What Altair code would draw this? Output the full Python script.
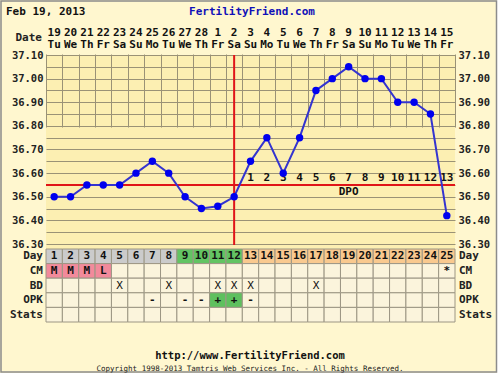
import altair as alt
import pandas as pd

# ---------------- data ----------------
days = list(range(1, 26))
dates = ["19", "20", "21", "22", "23", "24", "25", "26", "27", "28", "1", "2", "3",
         "4", "5", "6", "7", "8", "9", "10", "11", "12", "13", "14", "15"]
weekdays = ["Tu", "We", "Th", "Fr", "Sa", "Su", "Mo", "Tu", "We", "Th", "Fr", "Sa", "Su",
            "Mo", "Tu", "We", "Th", "Fr", "Sa", "Su", "Mo", "Tu", "We", "Th", "Fr"]
temps = [36.50, 36.50, 36.55, 36.55, 36.55, 36.60, 36.65, 36.60, 36.50, 36.45, 36.46, 36.50,
         36.65, 36.75, 36.60, 36.75, 36.95, 37.00, 37.05, 37.00, 37.00, 36.90, 36.90, 36.85, 36.42]
coverline = [36.55]
ovulation_day = [12]
dpo_days = [13, 14, 15, 16, 17, 18, 19, 20, 21, 22, 23, 24, 25]
dpo_labels = ["1", "2", "3", "4", "5", "6", "7", "8", "9", "10", "11", "12", "13"]
day_phase = ["pre", "pre", "pre", "pre", "pre", "pre", "pre", "pre",
             "fertile", "fertile", "fertile", "fertile",
             "post", "post", "post", "post", "post", "post", "post", "post", "post",
             "post", "post", "post", "post"]
cm_obs = ["M", "M", "M", "L", "", "", "", "", "", "", "", "", "", "", "", "", "", "", "", "",
          "", "", "", "", "*"]
bd_obs = ["", "", "", "", "X", "", "", "X", "", "", "X", "X", "X", "", "", "", "X", "", "",
          "", "", "", "", "", ""]
opk_obs = ["", "", "", "", "", "", "-", "", "-", "-", "+", "+", "-", "", "", "", "", "", "",
           "", "", "", "", "", ""]
row_names = ["Day", "CM", "BD", "OPK", "Stats"]
temp_ticks = [36.30, 36.35, 36.40, 36.45, 36.50, 36.55, 36.60, 36.65, 36.70, 36.75, 36.80,
              36.85, 36.90, 36.95, 37.00, 37.05, 37.10]
col_edges = [0.5, 1.5, 2.5, 3.5, 4.5, 5.5, 6.5, 7.5, 8.5, 9.5, 10.5, 11.5, 12.5, 13.5, 14.5,
             15.5, 16.5, 17.5, 18.5, 19.5, 20.5, 21.5, 22.5, 23.5, 24.5, 25.5]

# ---------------- style ----------------
FONT = "DejaVu Sans Mono"
GRID = "#9a9276"
RED = "#e01418"
CREAM = "#fbf4dc"
phase_fill = {"pre": "#cbcbcb", "fertile": "#63c463", "post": "#f9c98f"}

W, H = 409, 266
xscale = alt.Scale(domain=[0.5, 25.5], nice=False, zero=False)
tscale = alt.Scale(domain=[36.30, 37.10], range=[189, 0], nice=False, zero=False)
rscale = alt.Scale(domain=row_names, range=[194, 267], paddingInner=0, paddingOuter=0)

xaxis = alt.Axis(values=col_edges, grid=True, gridColor=GRID, gridOpacity=1, gridWidth=1,
                 labels=False, ticks=False, domain=False, title=None)

label_expr = "abs(round(datum.value*20)) % 2 == 0 ? format(datum.value, '.2f') : ''"
left_axis = alt.Axis(values=temp_ticks, grid=True, gridColor=GRID, gridOpacity=1, gridWidth=1,
                     ticks=False, domain=False, title=None, labelExpr=label_expr,
                     labelFont=FONT, labelFontSize=10.5, labelFontWeight="bold",
                     labelColor="#222222", labelPadding=3, labelOverlap=False, labelFlush=False,
                     orient="left")
right_axis = alt.Axis(values=temp_ticks, grid=False, ticks=False, domain=False, title=None,
                      labelExpr=label_expr, labelFont=FONT, labelFontSize=10.5,
                      labelFontWeight="bold", labelColor="#222222", labelPadding=3,
                      labelOverlap=False, labelFlush=False, orient="right")

# ---------------- tables ----------------
temp_df = pd.DataFrame({"day": days, "temp": temps})
head_df = pd.DataFrame({"day": days, "date": dates, "wd": weekdays})
dpo_df = pd.DataFrame({"day": dpo_days, "lab": dpo_labels})

cells = []
for i, d in enumerate(days):
    obs = {"Day": str(d), "CM": cm_obs[i], "BD": bd_obs[i], "OPK": opk_obs[i], "Stats": ""}
    for r in row_names:
        if r == "Day":
            fill = phase_fill[day_phase[i]]
        elif r == "CM" and obs[r] in ("M", "L"):
            fill = "#f28a9b"
        elif r == "OPK" and obs[r] == "+":
            fill = "#5ec05e"
        else:
            fill = CREAM
        weight = "bold" if r in ("Day", "CM", "OPK") else "normal"
        cells.append({"day": d, "x0": d - 0.5, "x1": d + 0.5, "row": r, "fill": fill,
                      "txt": obs[r], "w": weight})
cell_df = pd.DataFrame(cells)
one = pd.DataFrame({"k": [0]})

# ---------------- layers ----------------
white_right = alt.Chart(one).mark_rect(color="white").encode(
    x=alt.value(451), x2=alt.value(460), y=alt.value(-60), y2=alt.value(330))
white_bottom = alt.Chart(one).mark_rect(color="white").encode(
    x=alt.value(-50), x2=alt.value(460), y=alt.value(318), y2=alt.value(330))
frame = alt.Chart(one).mark_rect(fillOpacity=0, stroke="#8c8c8c", strokeWidth=1.5).encode(
    x=alt.value(-45), x2=alt.value(450.5), y=alt.value(-54), y2=alt.value(317))

cell_rects = alt.Chart(cell_df).mark_rect(stroke="#9c9684", strokeWidth=1).encode(
    x=alt.X("x0:Q", scale=xscale, axis=xaxis), x2="x1:Q",
    y=alt.Y("row:N", scale=rscale, axis=None),
    fill=alt.Fill("fill:N", scale=None))
cell_text_bold = alt.Chart(cell_df[cell_df["w"] == "bold"]).mark_text(
    font=FONT, fontSize=11, fontWeight="bold", color="#111111", baseline="middle").encode(
    x=alt.X("day:Q", scale=xscale, axis=xaxis),
    y=alt.Y("row:N", scale=rscale, axis=None), text="txt:N")
cell_text_norm = alt.Chart(cell_df[cell_df["w"] == "normal"]).mark_text(
    font=FONT, fontSize=11, color="#111111", baseline="middle").encode(
    x=alt.X("day:Q", scale=xscale, axis=xaxis),
    y=alt.Y("row:N", scale=rscale, axis=None), text="txt:N")

row_df = pd.DataFrame({"row": row_names})
row_left = alt.Chart(row_df).mark_text(font=FONT, fontSize=11, fontWeight="bold",
                                       color="#222222", align="right", baseline="middle").encode(
    x=alt.value(-3), y=alt.Y("row:N", scale=rscale, axis=None), text="row:N")
row_right = alt.Chart(row_df).mark_text(font=FONT, fontSize=11, fontWeight="bold",
                                        color="#222222", align="left", baseline="middle").encode(
    x=alt.value(413), y=alt.Y("row:N", scale=rscale, axis=None), text="row:N")

cover = alt.Chart(pd.DataFrame({"t": coverline})).mark_rule(color=RED, strokeWidth=2).encode(
    y=alt.Y("t:Q", scale=tscale, axis=None), x=alt.value(0), x2=alt.value(W))
ovul = alt.Chart(pd.DataFrame({"d": ovulation_day})).mark_rule(color=RED, strokeWidth=2).encode(
    x=alt.X("d:Q", scale=xscale, axis=xaxis), y=alt.value(0), y2=alt.value(190))

dpo_nums = alt.Chart(dpo_df).mark_text(font=FONT, fontSize=11, fontWeight="bold",
                                       color="#111111", baseline="middle").encode(
    x=alt.X("day:Q", scale=xscale, axis=xaxis), y=alt.value(123), text="lab:N")
dpo_word = alt.Chart(pd.DataFrame({"day": [19], "lab": ["DPO"]})).mark_text(
    font=FONT, fontSize=11, fontWeight="bold", color="#111111", baseline="middle").encode(
    x=alt.X("day:Q", scale=xscale, axis=xaxis), y=alt.value(137), text="lab:N")

line = alt.Chart(temp_df).mark_line(color="#3434d0", strokeWidth=2).encode(
    x=alt.X("day:Q", scale=xscale, axis=xaxis),
    y=alt.Y("temp:Q", scale=tscale, axis=left_axis))
points = alt.Chart(temp_df).mark_circle(color="#0000ee", opacity=1, size=55).encode(
    x=alt.X("day:Q", scale=xscale, axis=xaxis),
    y=alt.Y("temp:Q", scale=tscale, axis=right_axis))

date_nums = alt.Chart(head_df).mark_text(font=FONT, fontSize=11, fontWeight="bold",
                                         color="#111111", baseline="middle").encode(
    x=alt.X("day:Q", scale=xscale, axis=xaxis), y=alt.value(-22), text="date:N")
date_wds = alt.Chart(head_df).mark_text(font=FONT, fontSize=11, fontWeight="bold",
                                        color="#111111", baseline="middle").encode(
    x=alt.X("day:Q", scale=xscale, axis=xaxis), y=alt.value(-10), text="wd:N")
date_lab = alt.Chart(pd.DataFrame({"t": ["Date"]})).mark_text(
    font=FONT, fontSize=11, fontWeight="bold", color="#222222", align="right",
    baseline="middle").encode(x=alt.value(-4), y=alt.value(-17), text="t:N")

title_l = alt.Chart(pd.DataFrame({"t": ["Feb 19, 2013"]})).mark_text(
    font=FONT, fontSize=11, fontWeight="bold", color="#111111", align="left",
    baseline="middle").encode(x=alt.value(-40), y=alt.value(-43), text="t:N")
title_c = alt.Chart(pd.DataFrame({"t": ["FertilityFriend.com"]})).mark_text(
    font=FONT, fontSize=11, fontWeight="bold", color="#1010b8", align="center",
    baseline="middle").encode(x=alt.value(206), y=alt.value(-43), text="t:N")
foot_url = alt.Chart(pd.DataFrame({"t": ["http://www.FertilityFriend.com"]})).mark_text(
    font=FONT, fontSize=10.5, fontWeight="bold", color="#111111", align="center",
    baseline="middle").encode(x=alt.value(204), y=alt.value(301), text="t:N")
foot_copy = alt.Chart(pd.DataFrame(
    {"t": ["Copyright 1998-2013 Tamtris Web Services Inc. - All Rights Reserved."]})
).mark_text(font=FONT, fontSize=7.5, color="#222222", align="center",
            baseline="middle").encode(x=alt.value(204), y=alt.value(314), text="t:N")

chart = alt.layer(
    white_right, white_bottom, frame,
    cell_rects, cell_text_bold, cell_text_norm, row_left, row_right,
    cover, ovul, dpo_nums, dpo_word, line, points,
    date_nums, date_wds, date_lab, title_l, title_c, foot_url, foot_copy,
).resolve_scale(y="independent").properties(
    width=W, height=H,
    autosize=alt.AutoSizeParams(type="none"),
    padding={"left": 46, "top": 55, "right": 45, "bottom": 55},
    background="#fff7cf",
).configure_view(fill="#fcefb2", strokeWidth=0)

chart.save("out.html", embed_options={"renderer": "svg", "actions": False})
